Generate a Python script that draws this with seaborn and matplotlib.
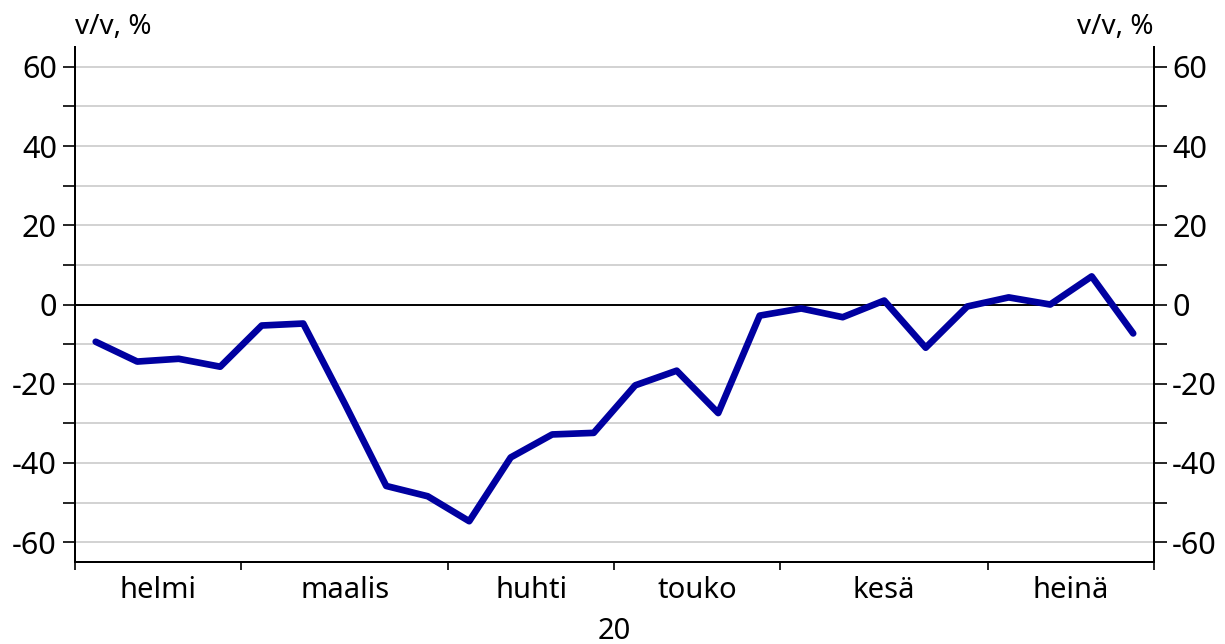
import numpy as np
import pandas as pd
import matplotlib
matplotlib.use("Agg")
import matplotlib.pyplot as plt
import seaborn as sns

# weekly year-on-year change, %, Feb-Jul 2020
months = ["helmi", "maalis", "huhti", "touko", "kesä", "heinä"]
weeks_per_month = [4, 5, 4, 4, 5, 4]
values = [-9.4, -14.4, -13.7, -15.7, -5.3, -4.8, -25.0, -45.8, -48.4, -54.7,
          -38.6, -32.8, -32.4, -20.4, -16.7, -27.4, -2.8, -1.0, -3.2, 1.0,
          -10.9, -0.5, 1.8, 0.0, 7.1, -7.3]
year_label = "20"
unit = "v/v, %"

df = pd.DataFrame({"week": np.arange(len(values)) + 0.5, "value": values})

sns.set_style("white")
plt.rcParams["font.family"] = ["Noto Sans", "DejaVu Sans"]
plt.rcParams["text.color"] = "black"

fig = plt.figure(figsize=(12.25, 6.44), dpi=100)
ax = fig.add_axes([0.0612, 0.1273, 0.8808, 0.7997])

ymin, ymax = -65, 65
for y in range(-60, 61, 10):
    if y != 0:
        ax.axhline(y, color="#d2d2d2", lw=1.4, zorder=0)
ax.axhline(0, color="black", lw=1.4, zorder=1)

sns.lineplot(data=df, x="week", y="value", ax=ax, color="#0000a0", lw=4.8,
             zorder=3)

bounds = np.concatenate([[0], np.cumsum(weeks_per_month)])
centers = (bounds[:-1] + bounds[1:]) / 2
ax.set_xlim(0, bounds[-1])
ax.set_ylim(ymin, ymax)

ax.set_xticks(bounds)
ax.set_xticklabels([])
ax.set_xticks(centers, minor=True)
ax.set_xticklabels(months, minor=True)
ax.tick_params(axis="x", which="major", direction="out", length=6, width=1.2,
               color="black", bottom=True)
ax.tick_params(axis="x", which="minor", length=0, labelsize=21, pad=10,
               colors="black")

yt = np.arange(-60, 61, 10)
ax.set_yticks(yt)
ax.set_yticklabels([str(v) if v % 20 == 0 else "" for v in yt])
ax.tick_params(axis="y", direction="out", length=9, width=1.2, labelsize=22,
               left=True, colors="black", pad=4)
ax.set_xlabel("")
ax.set_ylabel("")

ax2 = ax.twinx()
ax2.set_ylim(ymin, ymax)
ax2.set_yticks(yt)
ax2.set_yticklabels([str(v) if v % 20 == 0 else "" for v in yt])
ax2.tick_params(axis="y", direction="out", length=9, width=1.2, labelsize=22,
                right=True, colors="black", pad=4)

for a in (ax, ax2):
    a.spines["top"].set_visible(False)
    for s in ("left", "right", "bottom"):
        a.spines[s].set_color("black")
        a.spines[s].set_linewidth(1.4)

fig.text(0.0612, 0.958, unit, ha="left", va="center", fontsize=20)
fig.text(0.942, 0.958, unit, ha="right", va="center", fontsize=20)
fig.text(0.5016, 0.02, year_label, ha="center", va="center", fontsize=21)

fig.savefig("out.png", dpi=100)
